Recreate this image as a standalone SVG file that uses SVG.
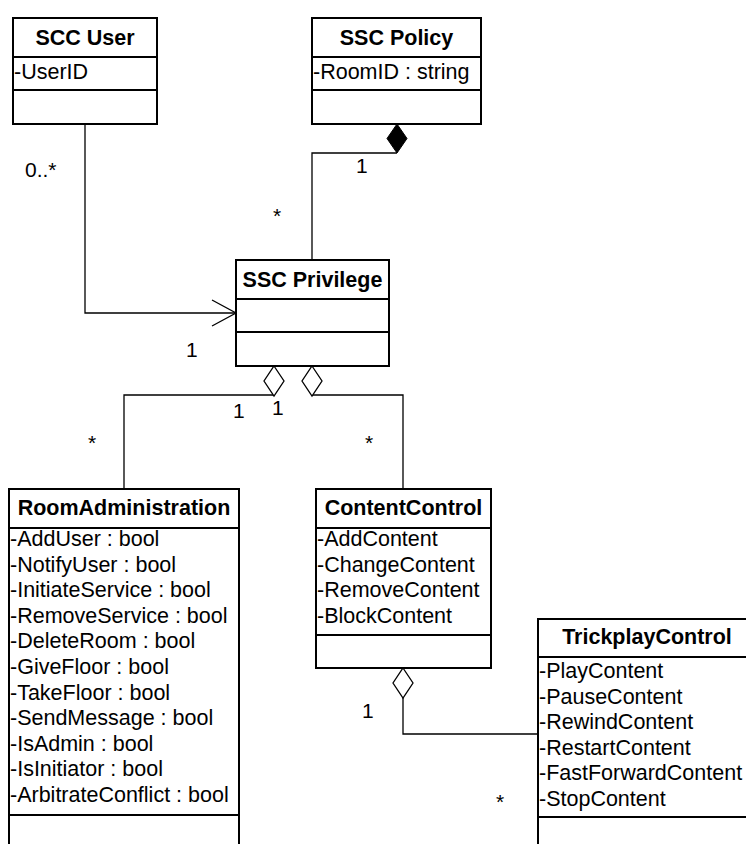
<svg xmlns="http://www.w3.org/2000/svg" width="746" height="844" viewBox="0 0 746 844">
<style>
.box{fill:#fff;stroke:#000;stroke-width:2}
.sep{stroke:#000;stroke-width:2}
.t{font-family:"Liberation Sans",Arial,sans-serif;font-size:21.5px;font-weight:bold;text-anchor:middle;fill:#000}
.a{font-family:"Liberation Sans",Arial,sans-serif;font-size:21.5px;fill:#000}
.c{fill:none;stroke:#000;stroke-width:1.3}
.m{font-family:"Liberation Sans",Arial,sans-serif;font-size:21px;fill:#000}
</style>
<rect width="746" height="844" fill="#fff"/>
<g id="connectors">
  <polyline class="c" points="85,124 85,313 236,313"/>
  <polyline class="c" points="212,300 236,313 212,326"/>
  <polyline class="c" points="397,153 312,153 312,260"/>
  <polygon points="397,124 407,138.5 397,153 387,138.5" fill="#000" stroke="#000" stroke-width="1"/>
  <polyline class="c" points="274,395 124,395 124,489"/>
  <polygon points="274,366 284,381 274,396 264,381" fill="#fff" stroke="#000" stroke-width="1.3"/>
  <polyline class="c" points="312,395 403,395 403,489"/>
  <polygon points="312,366 322,381 312,396 302,381" fill="#fff" stroke="#000" stroke-width="1.3"/>
  <polyline class="c" points="403,698 403,734 538,734"/>
  <polygon points="403,668 413,683 403,698 393,683" fill="#fff" stroke="#000" stroke-width="1.3"/>
  <text class="m" x="25" y="177">0..*</text>
  <text class="m" x="356" y="173">1</text>
  <text class="m" x="273" y="223">*</text>
  <text class="m" x="186" y="357">1</text>
  <text class="m" x="233" y="418">1</text>
  <text class="m" x="272" y="415">1</text>
  <text class="m" x="88" y="450">*</text>
  <text class="m" x="365" y="450">*</text>
  <text class="m" x="362" y="718">1</text>
  <text class="m" x="496" y="809">*</text>
</g>
<g id="scc-user">
  <rect class="box" x="13" y="18" width="144" height="106"/>
  <line class="sep" x1="13" y1="57" x2="157" y2="57"/>
  <line class="sep" x1="13" y1="90" x2="157" y2="90"/>
  <text class="t" x="85" y="45">SCC User</text>
  <text class="a" x="14" y="79">-UserID</text>
</g>
<g id="ssc-policy">
  <rect class="box" x="312" y="18" width="169" height="106"/>
  <line class="sep" x1="312" y1="57" x2="481" y2="57"/>
  <line class="sep" x1="312" y1="90" x2="481" y2="90"/>
  <text class="t" x="396.5" y="45">SSC Policy</text>
  <text class="a" x="313" y="79">-RoomID : string</text>
</g>
<g id="ssc-privilege">
  <rect class="box" x="236" y="260" width="153" height="106"/>
  <line class="sep" x1="236" y1="299" x2="389" y2="299"/>
  <line class="sep" x1="236" y1="332" x2="389" y2="332"/>
  <text class="t" x="312.5" y="287">SSC Privilege</text>
</g>
<g id="room-administration">
  <rect class="box" x="9" y="489" width="230" height="370"/>
  <line class="sep" x1="9" y1="528" x2="239" y2="528"/>
  <line class="sep" x1="9" y1="815" x2="239" y2="815"/>
  <text class="t" x="124" y="515">RoomAdministration</text>
  <text class="a" x="10" y="546">-AddUser : bool</text>
  <text class="a" x="10" y="571.6">-NotifyUser : bool</text>
  <text class="a" x="10" y="597.2">-InitiateService : bool</text>
  <text class="a" x="10" y="622.8">-RemoveService : bool</text>
  <text class="a" x="10" y="648.4">-DeleteRoom : bool</text>
  <text class="a" x="10" y="674">-GiveFloor : bool</text>
  <text class="a" x="10" y="699.6">-TakeFloor : bool</text>
  <text class="a" x="10" y="725.2">-SendMessage : bool</text>
  <text class="a" x="10" y="750.8">-IsAdmin : bool</text>
  <text class="a" x="10" y="776.4">-IsInitiator : bool</text>
  <text class="a" x="10" y="802">-ArbitrateConflict : bool</text>
</g>
<g id="content-control">
  <rect class="box" x="316" y="489" width="175" height="179"/>
  <line class="sep" x1="316" y1="528" x2="491" y2="528"/>
  <line class="sep" x1="316" y1="635" x2="491" y2="635"/>
  <text class="t" x="403.5" y="515">ContentControl</text>
  <text class="a" x="317" y="546">-AddContent</text>
  <text class="a" x="317" y="571.6">-ChangeContent</text>
  <text class="a" x="317" y="597.2">-RemoveContent</text>
  <text class="a" x="317" y="622.8">-BlockContent</text>
</g>
<g id="trickplay-control">
  <rect class="box" x="538" y="619" width="218" height="240"/>
  <line class="sep" x1="538" y1="657" x2="756" y2="657"/>
  <line class="sep" x1="538" y1="817" x2="756" y2="817"/>
  <text class="t" x="647" y="644">TrickplayControl</text>
  <text class="a" x="539" y="678">-PlayContent</text>
  <text class="a" x="539" y="703.6">-PauseContent</text>
  <text class="a" x="539" y="729.2">-RewindContent</text>
  <text class="a" x="539" y="754.8">-RestartContent</text>
  <text class="a" x="539" y="780.4">-FastForwardContent</text>
  <text class="a" x="539" y="806">-StopContent</text>
</g>
</svg>
